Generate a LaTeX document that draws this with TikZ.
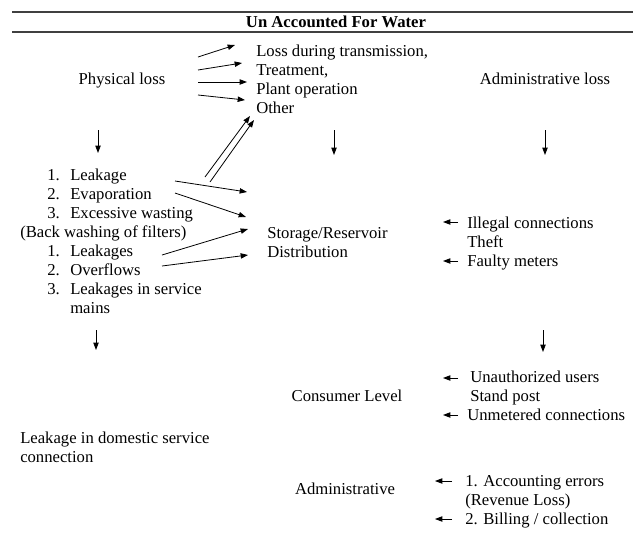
\documentclass[tikz,border=0pt]{standalone}
\usepackage{fontspec}
\setmainfont{Liberation Serif}
\usetikzlibrary{arrows.meta}
\tikzset{every picture/.append style={x=0.75pt, y=-0.75pt}}
\tikzset{
    txt/.style={inner sep=0pt, align=left, anchor=base west,
    	font=\fontsize{12.5}{14.2}\selectfont},
    ctr/.style={txt, anchor=base},
    arr/.style={-{Triangle[length=5.5pt, width=4pt]}, line width=0.6pt},
    hrule/.style={line width=0.8pt, black!75}
}
\newcommand{\nm}[1]{\makebox[37.5pt][l]{\hspace{20.25pt}#1}}

\begin{document}
\begin{tikzpicture}
  \useasboundingbox (0,0) rectangle (633,533);
  \coordinate (r_a) at (12,12);  \coordinate (r_b) at (633,12);
  \coordinate (r_c) at (12,32);  \coordinate (r_d) at (633,32);
  \draw[hrule] (r_a) -- (r_b);
  \draw[hrule] (r_c) -- (r_d);
  \node (title) [ctr, font=\fontsize{12.5}{14.2}\selectfont\bfseries] at (336,27.5) {Un Accounted For Water};

  % multi-line texts sit on the baseline of their last line
  \node (p_loss) [ctr] at (122,84.5) {Physical loss};
  \node (a_loss) [ctr] at (545,84.5) {Administrative loss};
  \node (trans) [txt] at (256,113.5) {Loss during transmission,\\ Treatment,\\ Plant operation\\ Other};
  \node (leaks) [txt] at (20,313.5) {\nm{1.}Leakage\\ \nm{2.}Evaporation\\ \nm{3.}Excessive wasting\\
    (Back washing of filters)\\ \nm{1.}Leakages\\ \nm{2.}Overflows\\ \nm{3.}Leakages in service\\ \nm{}mains};
  \node (store) [txt] at (267,257.5) {Storage/Reservoir\\ Distribution};
  \node (illeg) [txt] at (467,266.5) {Illegal connections\\ Theft\\ Faulty meters};
  \node (cons) [ctr] at (347,401.5) {Consumer Level};
  \node (unauth) [txt] at (467,420.5) {\hspace*{2.25pt}Unauthorized users\\ \hspace*{2.25pt}Stand post\\ Unmetered connections};
  \node (domest) [txt] at (20,462.5) {Leakage in domestic service\\ connection};
  \node (admin) [ctr] at (345,494.5) {Administrative};
  \node (acct) [txt] at (465,524.5) {1. Accounting errors\\ (Revenue Loss)\\ 2. Billing / collection};

  \coordinate (p_1) at (198,57);  \coordinate (q_1) at (235,45);
  \coordinate (p_2) at (198,70);  \coordinate (q_2) at (242,63);
  \coordinate (p_3) at (198,82);  \coordinate (q_3) at (247,82);
  \coordinate (p_4) at (198,95);  \coordinate (q_4) at (245,100);
  \coordinate (d_1) at (205,177); \coordinate (e_1) at (250,116);
  \coordinate (d_2) at (210,182); \coordinate (e_2) at (254,120);
  \coordinate (s_1) at (175,181); \coordinate (t_1) at (247,192);
  \coordinate (s_2) at (175,193); \coordinate (t_2) at (246,217);
  \coordinate (s_3) at (162,255); \coordinate (t_3) at (248,229);
  \coordinate (s_4) at (162,266); \coordinate (t_4) at (248,255);
  \coordinate (u_1) at (98,130);  \coordinate (v_1) at (98,153);
  \coordinate (u_2) at (334,130); \coordinate (v_2) at (334,155);
  \coordinate (u_3) at (545,130); \coordinate (v_3) at (545,155);
  \coordinate (u_4) at (96,330);  \coordinate (v_4) at (96,350);
  \coordinate (u_5) at (543,330); \coordinate (v_5) at (543,352);
  \coordinate (l_1) at (458,222); \coordinate (m_1) at (443,222);
  \coordinate (l_2) at (458,261); \coordinate (m_2) at (443,261);
  \coordinate (l_3) at (458,378); \coordinate (m_3) at (443,378);
  \coordinate (l_4) at (458,415); \coordinate (m_4) at (443,415);
  \coordinate (l_5) at (452,481); \coordinate (m_5) at (435,481);
  \coordinate (l_6) at (452,519); \coordinate (m_6) at (435,519);

  \draw[arr] (p_1) -- (q_1);
  \draw[arr] (p_2) -- (q_2);
  \draw[arr] (p_3) -- (q_3);
  \draw[arr] (p_4) -- (q_4);
  \draw[arr] (d_1) -- (e_1);
  \draw[arr] (d_2) -- (e_2);
  \draw[arr] (s_1) -- (t_1);
  \draw[arr] (s_2) -- (t_2);
  \draw[arr] (s_3) -- (t_3);
  \draw[arr] (s_4) -- (t_4);
  \draw[arr] (u_1) -- (v_1);
  \draw[arr] (u_2) -- (v_2);
  \draw[arr] (u_3) -- (v_3);
  \draw[arr] (u_4) -- (v_4);
  \draw[arr] (u_5) -- (v_5);
  \draw[arr] (l_1) -- (m_1);
  \draw[arr] (l_2) -- (m_2);
  \draw[arr] (l_3) -- (m_3);
  \draw[arr] (l_4) -- (m_4);
  \draw[arr] (l_5) -- (m_5);
  \draw[arr] (l_6) -- (m_6);
\end{tikzpicture}
\end{document}
